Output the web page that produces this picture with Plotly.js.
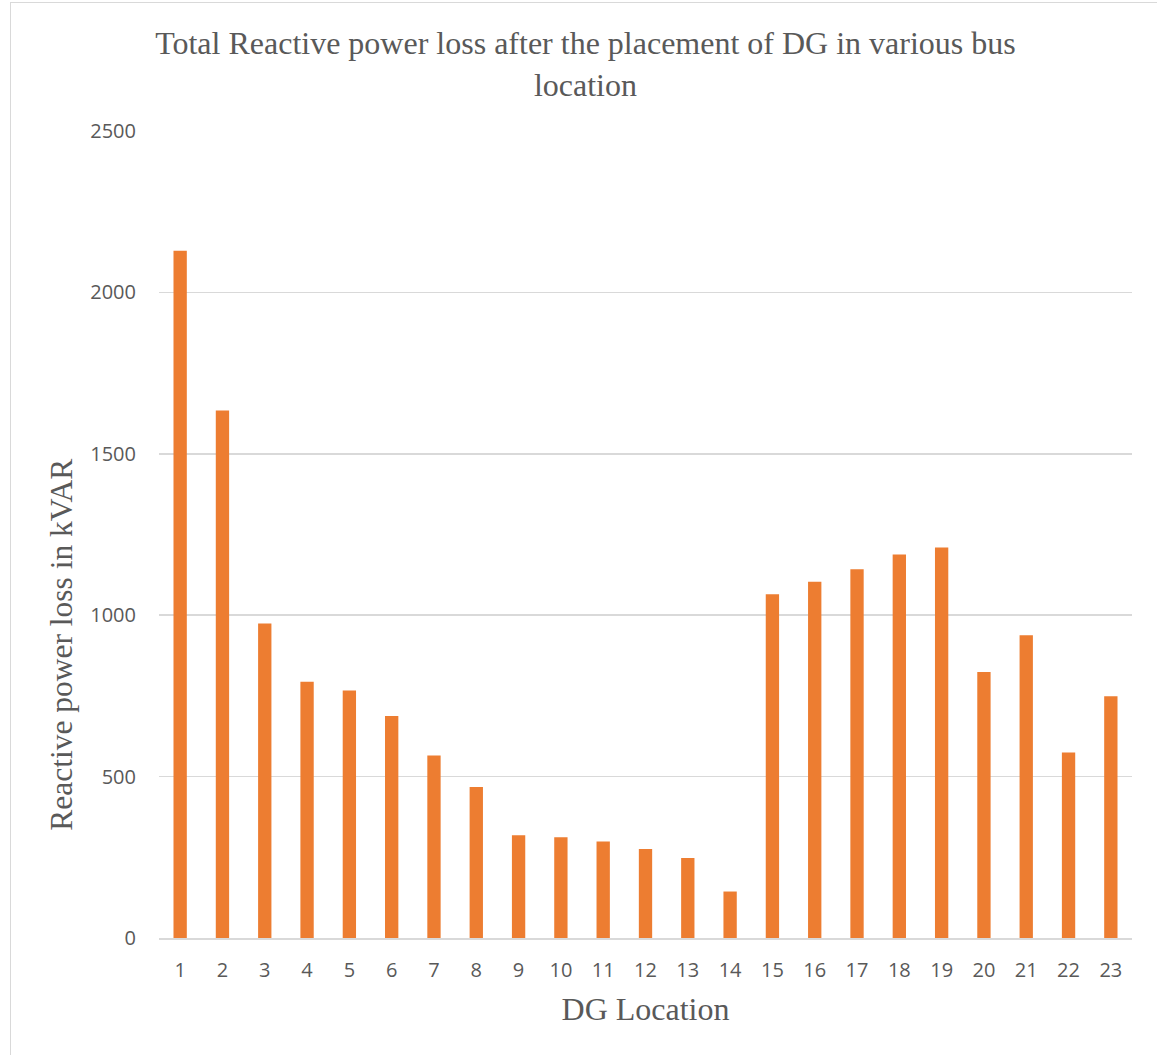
<!DOCTYPE html>
<html>
<head>
<meta charset="utf-8">
<script src="https://cdn.plot.ly/plotly-3.0.1.min.js"></script>
<style>
  html, body { margin: 0; padding: 0; background: #ffffff; }
  #chart { width: 1157px; height: 1055px; }
  #frame { position: absolute; left: 10px; top: 2px; width: 1200px; height: 1200px;
           border: 1.5px solid #d9d9d9; pointer-events: none; }
</style>
</head>
<body>
<div id="chart"></div>
<div id="frame"></div>
<script>
// DG bus locations (categories)
const locations = ["1","2","3","4","5","6","7","8","9","10","11","12","13","14","15","16","17","18","19","20","21","22","23"];
// Total reactive power loss (kVAR) after DG placement at each location
const reactiveLoss = [2129, 1634, 974, 794, 767, 688, 565, 468, 318, 312, 299, 276, 248, 144, 1065, 1104, 1142, 1188, 1210, 824, 938, 575, 749];
// Axis ticks
const yTicks = [0, 500, 1000, 1500, 2000, 2500];

const chartTitle = "Total Reactive power loss after the placement of DG in various bus<br>location";
const xTitle = "DG Location";
const yTitle = "Reactive power loss in kVAR";

const serif = "Liberation Serif, Times New Roman, serif";
const sans = "Open Sans, Noto Sans, sans-serif";
const textGrey = "#595959";

const trace = {
  type: "bar",
  x: locations,
  y: reactiveLoss,
  marker: { color: "#ED7D31", line: { width: 0 } },
  hoverinfo: "x+y"
};

const layout = {
  width: 1157,
  height: 1055,
  margin: { l: 159, r: 25, t: 131, b: 117 },
  paper_bgcolor: "rgba(0,0,0,0)",
  plot_bgcolor: "rgba(0,0,0,0)",
  bargap: 0.685,
  showlegend: false,
  title: {
    text: chartTitle,
    font: { family: serif, size: 32, color: textGrey },
    x: 0.506, xref: "container", xanchor: "center",
    y: 0.9488, yref: "container", yanchor: "middle"
  },
  xaxis: {
    type: "category",
    showgrid: false,
    showline: true,
    linecolor: "#d9d9d9",
    linewidth: 1.5,
    ticks: "",
    ticklabelstandoff: 13,
    tickfont: { family: sans, size: 20, color: textGrey },
    title: {
      text: xTitle,
      font: { family: serif, size: 32, color: textGrey },
      standoff: 16
    },
    automargin: false
  },
  yaxis: {
    range: [0, 2500],
    tickvals: yTicks,
    ticktext: yTicks.map(String),
    showgrid: true,
    gridcolor: "#d9d9d9",
    gridwidth: 1.5,
    zeroline: false,
    showline: false,
    ticks: "",
    ticklabelstandoff: 22,
    tickfont: { family: sans, size: 20, color: textGrey },
    automargin: false
  },
  annotations: [{
    text: yTitle,
    textangle: -90,
    font: { family: serif, size: 31.5, color: textGrey },
    xref: "paper", yref: "paper",
    x: -0.0997, y: 0.3633,
    xanchor: "center", yanchor: "middle",
    showarrow: false
  }]
};

Plotly.newPlot("chart", [trace], layout, { displayModeBar: false, staticPlot: true });
</script>
</body>
</html>
